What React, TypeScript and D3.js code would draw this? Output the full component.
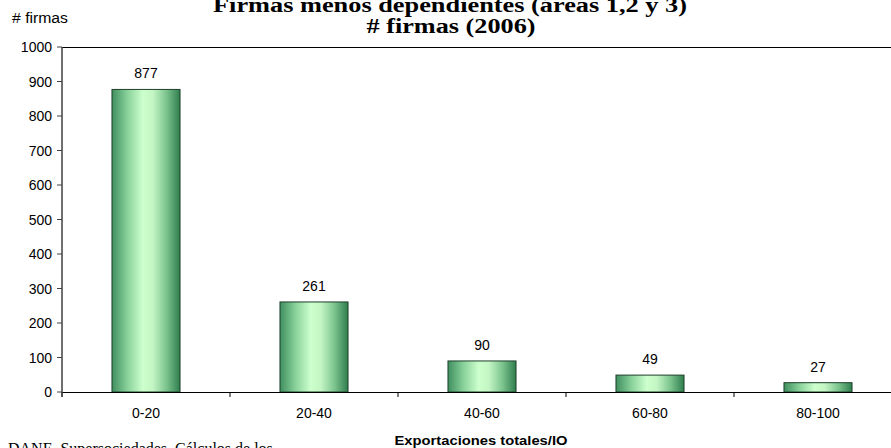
import React from "react";
import * as d3 from "d3";

const categories = ["0-20", "20-40", "40-60", "60-80", "80-100"];
const values = [877, 261, 90, 49, 27];
const yTicks = [0, 100, 200, 300, 400, 500, 600, 700, 800, 900, 1000];
const titleLines = ["Firmas menos dependientes (áreas 1,2 y 3)", "# firmas (2006)"];
const yLabel = "# firmas";
const xLabel = "Exportaciones totales/IO";
const sourceText = "DANE. Supersociedades. Cálculos de los";

export default function App() {
  const W = 891, H = 448;
  const left = 62, right = 902, top = 47, bottom = 392;
  const x = d3.scaleBand<string>().domain(categories).range([left, right]).paddingInner(0.595).paddingOuter(0.2975);
  const y = d3.scaleLinear().domain([0, 1000]).range([bottom, top]);
  const band = (right - left) / categories.length;
  const sans = "'Liberation Sans', Arimo, sans-serif";
  const serif = "'Liberation Serif', Tinos, serif";
  return (
    <svg width={W} height={H} style={{ position: "absolute", left: 0, top: 0, display: "block" }}>
      <defs>
        <linearGradient id="barg" x1="0" x2="1" y1="0" y2="0">
          <stop offset="0" stopColor="#3f8f5f" />
          <stop offset="0.22" stopColor="#86cf98" />
          <stop offset="0.45" stopColor="#ccffcc" />
          <stop offset="0.6" stopColor="#c4f6c4" />
          <stop offset="0.8" stopColor="#7cc48f" />
          <stop offset="1" stopColor="#2f7d4d" />
        </linearGradient>
      </defs>
      <rect x={0} y={0} width={W} height={H} fill="#fff" />
      {/* title */}
      <text x={450} y={12} textAnchor="middle" fontFamily={serif} fontWeight="bold" fontSize={20} textLength={474} lengthAdjust="spacingAndGlyphs">{titleLines[0]}</text>
      <text x={451} y={33} textAnchor="middle" fontFamily={serif} fontWeight="bold" fontSize={20} textLength={169} lengthAdjust="spacingAndGlyphs">{titleLines[1]}</text>
      <text x={12} y={23} fontFamily={sans} fontSize={14} fill="#000" textLength={56} lengthAdjust="spacingAndGlyphs">{yLabel}</text>
      {/* plot border top */}
      <line x1={left} x2={right} y1={top + 0.5} y2={top + 0.5} stroke="#000" strokeWidth={1} />
      {/* y ticks */}
      {yTicks.map((t) => (
        <g key={t}>
          <line x1={left - 5} x2={left} y1={y(t)} y2={y(t)} stroke="#404040" strokeWidth={1} />
          <text x={52} y={y(t) + 5} textAnchor="end" fontFamily={sans} fontSize={14} fill="#000">{t}</text>
        </g>
      ))}
      {/* bars */}
      {values.map((v, i) => (
        <g key={categories[i]}>
          <rect x={x(categories[i])!} y={y(v)} width={x.bandwidth()} height={bottom - y(v)} fill="url(#barg)" stroke="#1e3f2a" strokeWidth={1} />
          <text x={x(categories[i])! + x.bandwidth() / 2} y={y(v) - 11} textAnchor="middle" fontFamily={sans} fontSize={14} fill="#000">{v}</text>
          <text x={x(categories[i])! + x.bandwidth() / 2} y={418} textAnchor="middle" fontFamily={sans} fontSize={14} fill="#000">{categories[i]}</text>
        </g>
      ))}
      {/* x ticks */}
      {d3.range(categories.length + 1).map((i) => (
        <line key={i} x1={left + i * band} x2={left + i * band} y1={bottom} y2={bottom + 5} stroke="#000" strokeWidth={1} />
      ))}
      {/* axes */}
      <line x1={left} x2={right} y1={bottom + 0.5} y2={bottom + 0.5} stroke="#000" strokeWidth={1} />
      <line x1={left} x2={left} y1={top} y2={bottom + 5} stroke="#404040" strokeWidth={1.5} />
      <text x={481} y={445} textAnchor="middle" fontFamily={sans} fontWeight="bold" fontSize={13} textLength={173} lengthAdjust="spacingAndGlyphs">{xLabel}</text>
      <text x={8} y={454} fontFamily={serif} fontSize={16} fill="#000">{sourceText}</text>
    </svg>
  );
}
